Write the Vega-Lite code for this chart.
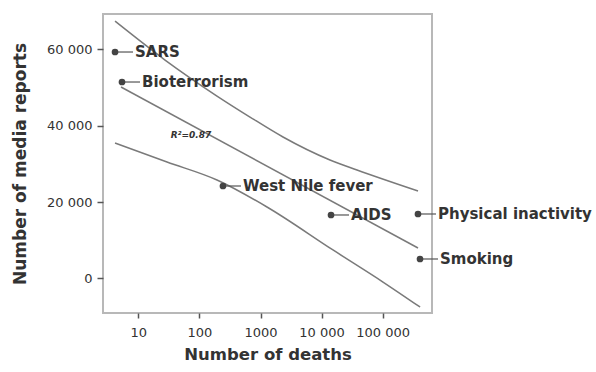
{
  "$schema": "https://vega.github.io/schema/vega-lite/v6.json",
  "autosize": "none",
  "width": 329,
  "height": 299,
  "padding": {"left": 103, "top": 14, "right": 164, "bottom": 59},
  "background": "white",
  "config": {
    "view": {"stroke": "#b8b8b8", "strokeWidth": 2},
    "font": "DejaVu Sans"
  },
  "datasets": {
    "points": [
      {"deaths": 4.16, "reports": 59340, "label": "SARS"},
      {"deaths": 5.41, "reports": 51480, "label": "Bioterrorism"},
      {"deaths": 243, "reports": 24235, "label": "West Nile fever"},
      {"deaths": 14260, "reports": 16640, "label": "AIDS"},
      {"deaths": 378000, "reports": 16900, "label": "Physical inactivity"},
      {"deaths": 408000, "reports": 5110, "label": "Smoking"}
    ],
    "band": [
      {"series": "upper", "deaths": 4.16, "reports": 67420},
      {"series": "upper", "deaths": 27.4, "reports": 57240},
      {"series": "upper", "deaths": 194, "reports": 47815},
      {"series": "upper", "deaths": 673, "reports": 42310},
      {"series": "upper", "deaths": 2334, "reports": 37070},
      {"series": "upper", "deaths": 13710, "reports": 31050},
      {"series": "upper", "deaths": 37930, "reports": 28430},
      {"series": "upper", "deaths": 378400, "reports": 22925},
      {"series": "fit", "deaths": 5.21, "reports": 50170},
      {"series": "fit", "deaths": 378400, "reports": 7990},
      {"series": "lower", "deaths": 4.16, "reports": 35500},
      {"series": "lower", "deaths": 29.5, "reports": 30520},
      {"series": "lower", "deaths": 194, "reports": 25810},
      {"series": "lower", "deaths": 1276, "reports": 18730},
      {"series": "lower", "deaths": 15350, "reports": 7470},
      {"series": "lower", "deaths": 101100, "reports": -920},
      {"series": "lower", "deaths": 408000, "reports": -7470}
    ],
    "annot": [
      {"deaths": 72.8, "reports": 37600, "label": "R²=0.87"}
    ]
  },
  "layer": [
    {
      "data": {"name": "band"},
      "mark": {"type": "line", "color": "#7a7a7a", "strokeWidth": 1.5, "interpolate": "monotone"},
      "encoding": {
        "x": {
          "field": "deaths", "type": "quantitative",
          "scale": {"type": "log", "domain": [2.644, 641000], "nice": false, "zero": false},
          "axis": {
            "title": "Number of deaths",
            "values": [10, 100, 1000, 10000, 100000],
            "labelExpr": "datum.value >= 10000 ? replace(format(datum.value, ','), ',', ' ') : format(datum.value, 'd')",
            "domain": false, "grid": false,
            "tickSize": 5, "tickColor": "#555", "tickWidth": 1.5,
            "labelFontSize": 13, "labelColor": "#333", "labelPadding": 8,
            "titleFontSize": 16.5, "titleFontWeight": "bold", "titleColor": "#333", "titlePadding": 7
          }
        },
        "y": {
          "field": "reports", "type": "quantitative",
          "scale": {"domain": [-9040, 69300], "nice": false, "zero": false},
          "axis": {
            "title": "Number of media reports",
            "values": [0, 20000, 40000, 60000],
            "labelExpr": "replace(format(datum.value, ','), ',', ' ')",
            "domain": false, "grid": false,
            "tickSize": 6, "tickColor": "#555", "tickWidth": 1.5,
            "labelFontSize": 13, "labelColor": "#333", "labelPadding": 5,
            "titleFontSize": 17, "titleFontWeight": "bold", "titleColor": "#333", "titlePadding": 17
          }
        },
        "detail": {"field": "series"},
        "order": {"field": "deaths", "type": "quantitative"}
      }
    },
    {
      "data": {"name": "points"},
      "mark": {"type": "rule", "color": "#555", "strokeWidth": 1.2, "xOffset": 3, "x2Offset": 18},
      "encoding": {
        "x": {"field": "deaths", "type": "quantitative"},
        "x2": {"field": "deaths"},
        "y": {"field": "reports", "type": "quantitative"}
      }
    },
    {
      "data": {"name": "points"},
      "mark": {"type": "circle", "color": "#444", "size": 45, "opacity": 1},
      "encoding": {
        "x": {"field": "deaths", "type": "quantitative"},
        "y": {"field": "reports", "type": "quantitative"}
      }
    },
    {
      "data": {"name": "points"},
      "mark": {"type": "text", "align": "left", "baseline": "middle", "dx": 20, "fontSize": 15, "fontWeight": "bold", "color": "#333"},
      "encoding": {
        "x": {"field": "deaths", "type": "quantitative"},
        "y": {"field": "reports", "type": "quantitative"},
        "text": {"field": "label"}
      }
    },
    {
      "data": {"name": "annot"},
      "mark": {"type": "text", "align": "center", "baseline": "middle", "fontSize": 9, "fontWeight": "bold", "fontStyle": "italic", "color": "#333"},
      "encoding": {
        "x": {"field": "deaths", "type": "quantitative"},
        "y": {"field": "reports", "type": "quantitative"},
        "text": {"field": "label"}
      }
    }
  ]
}
